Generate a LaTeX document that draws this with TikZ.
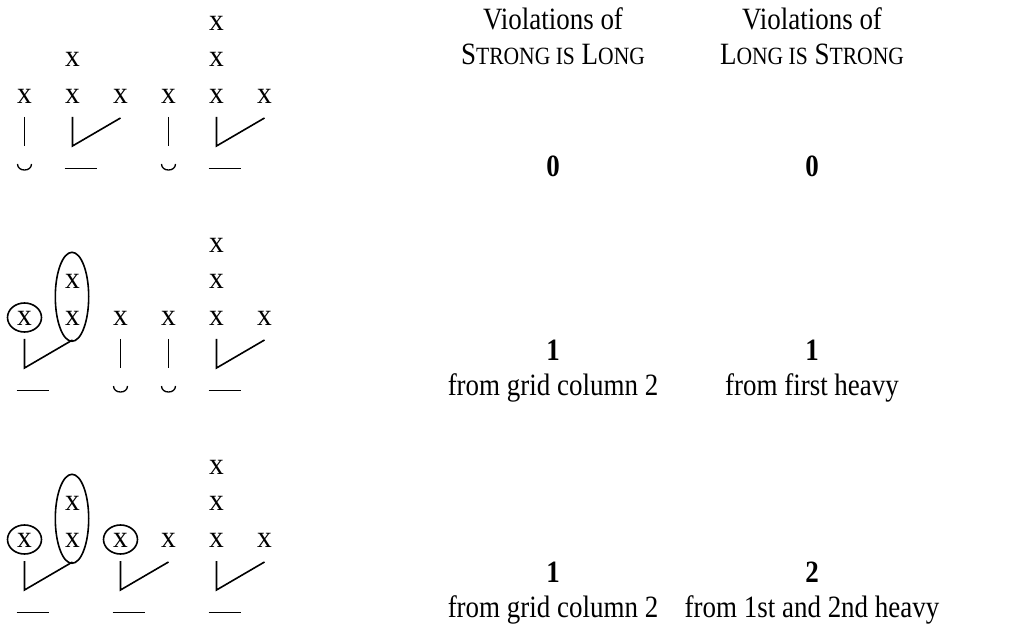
\documentclass[tikz,border=0pt]{standalone}
\usepackage{fontspec}
\setmainfont{Liberation Serif}[FakeStretch=0.87]
\newfontfamily\gridfont{Liberation Serif}[FakeStretch=0.95]
\newcommand\bigsz{\fontsize{31}{36}\selectfont}
\newcommand\smsz{\fontsize{24.8}{29}\selectfont}
\newcommand\heavyfoot[2]{%
  \draw[slant] (#1,#2+117) -- (#1,#2+146) -- (#1+48,#2+118);
  \draw[assoc] (#1-8,#2+168.5) -- (#1+24.5,#2+168.5);}
\newcommand\lightsyl[2]{%
  \draw[assoc] (#1,#2+117) -- (#1,#2+146);
  \draw[assoc] (#1-7,#2+164) .. controls (#1-7,#2+172) and (#1+7,#2+172) .. (#1+7,#2+164);}
\begin{document}
\begin{tikzpicture}[x=1pt,y=-1pt,
  lbl/.style={anchor=base,inner sep=0pt,font=\bigsz},
  gx/.style={anchor=base,inner sep=0pt,font=\gridfont\bigsz},
  assoc/.style={line width=1.3pt},
  slant/.style={line width=1.6pt,line join=miter},
  ring/.style={line width=1.6pt}]
\useasboundingbox (0,0) rectangle (1031,628);
% grid x marks
\foreach \r/\off in {1/0,2/222,3/444}{
  \foreach \c/\cx/\h in {1/24.5/1,2/72.5/2,3/120.5/1,4/168.5/1,5/216.5/3,6/264.5/1}{
    \foreach \l in {1,...,\h}{
      \node[gx] (x\r-\c-\l) at (\cx,{\off+103.3-36.5*(\l-1)}) {x};
    }
  }
}
% row 1
\lightsyl{24.5}{0}
\heavyfoot{72.5}{0}
\lightsyl{168.5}{0}
\heavyfoot{216.5}{0}
% row 2
\draw[ring] (24.5,317.5) ellipse[x radius=17,y radius=14.5];
\draw[ring] (72,296.8) ellipse[x radius=16.7,y radius=44.5];
\heavyfoot{24.5}{222}
\lightsyl{120.5}{222}
\lightsyl{168.5}{222}
\heavyfoot{216.5}{222}
% row 3
\draw[ring] (24.5,539.5) ellipse[x radius=17,y radius=14.5];
\draw[ring] (72,518.8) ellipse[x radius=16.7,y radius=44.5];
\draw[ring] (120.5,539.5) ellipse[x radius=17,y radius=14.5];
\heavyfoot{24.5}{444}
\heavyfoot{120.5}{444}
\heavyfoot{216.5}{444}
% headers
\node[lbl] (hA1) at (553,30) {Violations of};
\node[lbl] (hA2) at (553,65) {S{\smsz TRONG IS} L{\smsz ONG}};
\node[lbl] (hB1) at (812,30) {Violations of};
\node[lbl] (hB2) at (812,65) {L{\smsz ONG IS} S{\smsz TRONG}};
% values
\node[lbl,font=\bigsz\bfseries] (vA1) at (553,177) {0};
\node[lbl,font=\bigsz\bfseries] (vB1) at (812,177) {0};
\node[lbl,font=\bigsz\bfseries] (vA2) at (553,360) {1};
\node[lbl,font=\bigsz\bfseries] (vB2) at (812,360) {1};
\node[lbl] (tA2) at (553,395) {from grid column 2};
\node[lbl] (tB2) at (812,395) {from first heavy};
\node[lbl,font=\bigsz\bfseries] (vA3) at (553,582) {1};
\node[lbl,font=\bigsz\bfseries] (vB3) at (812,582) {2};
\node[lbl] (tA3) at (553,617) {from grid column 2};
\node[lbl] (tB3) at (812,617) {from 1st and 2nd heavy};
\end{tikzpicture}
\end{document}
